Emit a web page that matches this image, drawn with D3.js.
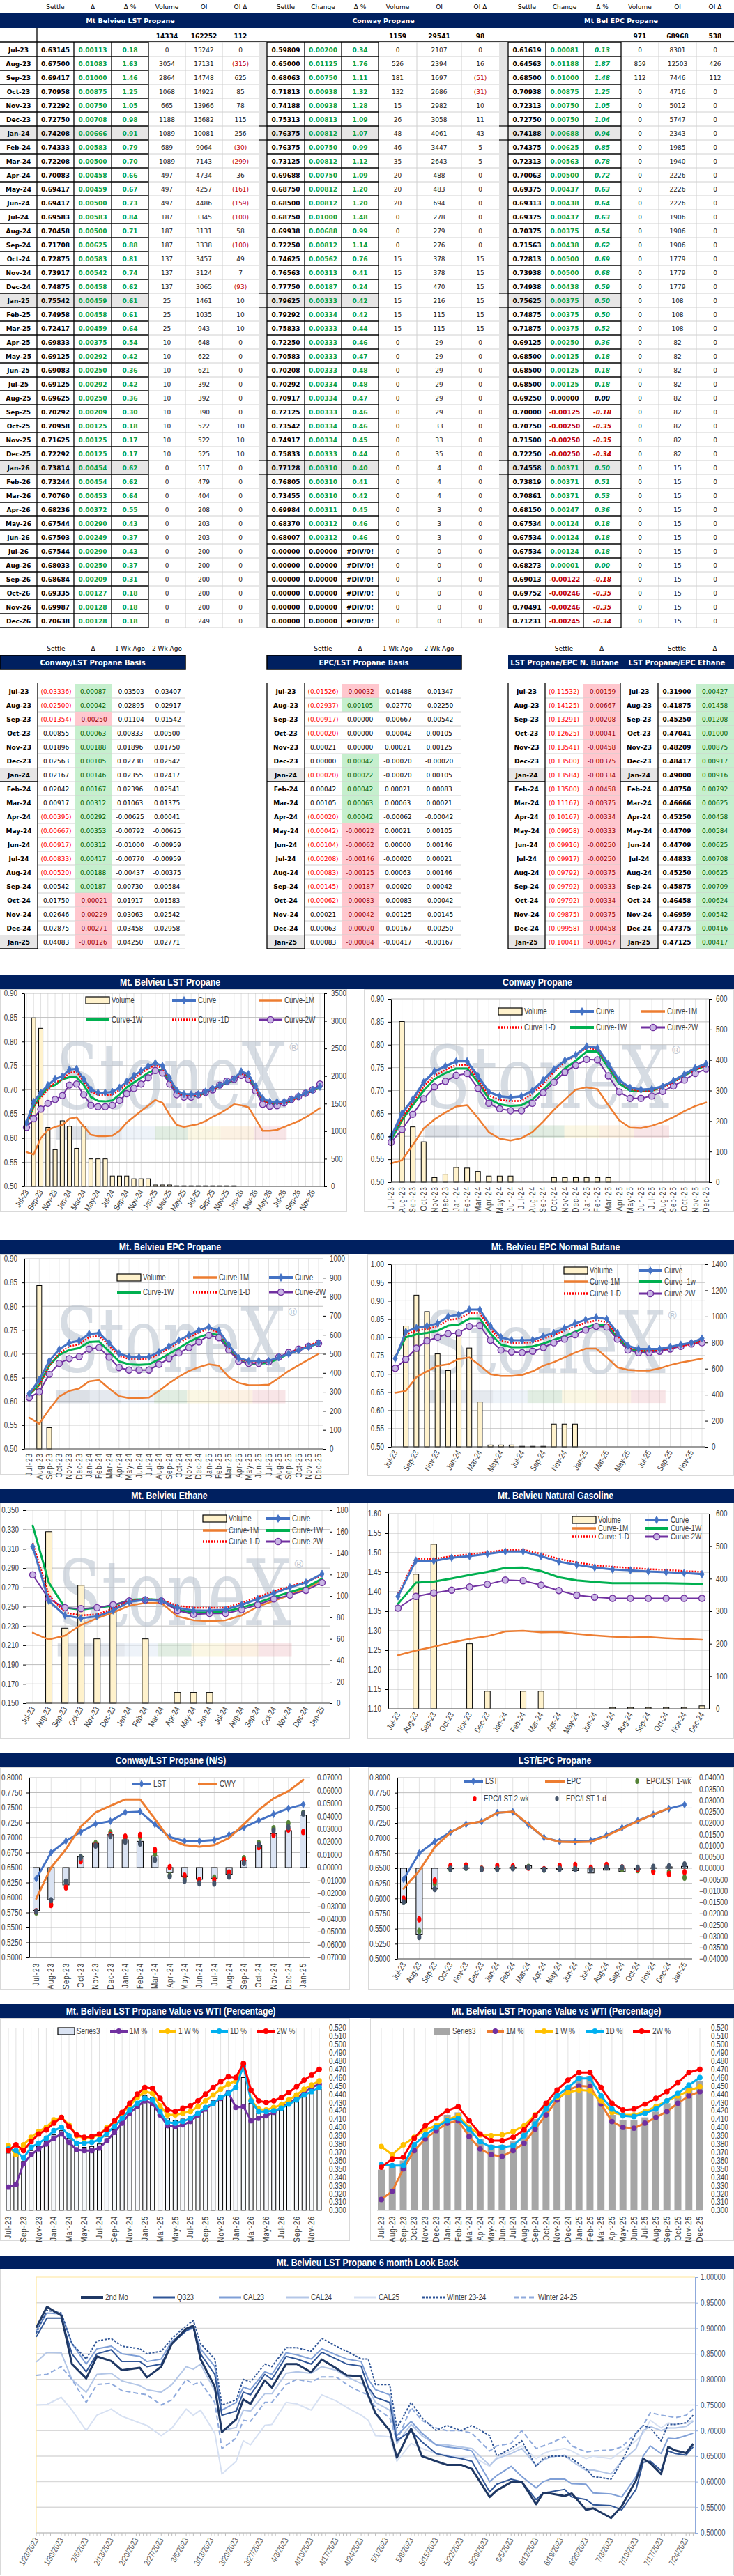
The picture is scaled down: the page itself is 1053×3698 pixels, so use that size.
<!DOCTYPE html>
<html>
<head>
<meta charset="utf-8">
<script src="https://cdn.jsdelivr.net/npm/d3@7"></script>
<style>
  body { margin: 0; background: #fff; }
  svg { display: block; }
</style>
</head>
<body>
<div id="page"></div>
<script>
// ---------- data ----------
const MONTHS = ["Jul-23","Aug-23","Sep-23","Oct-23","Nov-23","Dec-23","Jan-24","Feb-24","Mar-24","Apr-24","May-24","Jun-24","Jul-24","Aug-24","Sep-24","Oct-24","Nov-24","Dec-24","Jan-25","Feb-25","Mar-25","Apr-25","May-25","Jun-25","Jul-25","Aug-25","Sep-25","Oct-25","Nov-25","Dec-25","Jan-26","Feb-26","Mar-26","Apr-26","May-26","Jun-26","Jul-26","Aug-26","Sep-26","Oct-26","Nov-26","Dec-26"];

const LST_SETTLE = [0.63145,0.67500,0.69417,0.70958,0.72292,0.72750,0.74208,0.74333,0.72208,0.70083,0.69417,0.69417,0.69583,0.70458,0.71708,0.72875,0.73917,0.74875,0.75542,0.74958,0.72417,0.69833,0.69125,0.69083,0.69125,0.69625,0.70292,0.70958,0.71625,0.72292,0.73814,0.73244,0.70760,0.68236,0.67544,0.67503,0.67544,0.68033,0.68684,0.69335,0.69987,0.70638];
const LST_CHG = [0.00113,0.01083,0.01000,0.00875,0.00750,0.00708,0.00666,0.00583,0.00500,0.00458,0.00459,0.00500,0.00583,0.00500,0.00625,0.00583,0.00542,0.00458,0.00459,0.00458,0.00459,0.00375,0.00292,0.00250,0.00292,0.00250,0.00209,0.00125,0.00125,0.00125,0.00454,0.00454,0.00453,0.00372,0.00290,0.00249,0.00290,0.00250,0.00209,0.00127,0.00128,0.00128];
const LST_PCT = [0.18,1.63,1.46,1.25,1.05,0.98,0.91,0.79,0.70,0.66,0.67,0.73,0.84,0.71,0.88,0.81,0.74,0.62,0.61,0.61,0.64,0.54,0.42,0.36,0.42,0.36,0.30,0.18,0.17,0.17,0.62,0.62,0.64,0.55,0.43,0.37,0.43,0.37,0.31,0.18,0.18,0.18];
const LST_VOL = [0,3054,2864,1068,665,1188,1089,689,1089,497,497,497,187,187,187,137,137,137,25,25,25,10,10,10,10,10,10,10,10,10,0,0,0,0,0,0,0,0,0,0,0,0];
const LST_OI = [15242,17131,14748,14922,13966,15682,10081,9064,7143,4734,4257,4486,3345,3131,3338,3457,3124,3065,1461,1035,943,648,622,621,392,392,390,522,522,525,517,479,404,208,203,203,200,200,200,200,200,249];
const LST_OID = [0,-315,625,85,78,115,256,-30,-299,36,-161,-159,-100,58,-100,49,7,-93,10,10,10,0,0,0,0,0,0,10,10,10,0,0,0,0,0,0,0,0,0,0,0,0];

const CWY_SETTLE = [0.59809,0.65000,0.68063,0.71813,0.74188,0.75313,0.76375,0.76375,0.73125,0.69688,0.68750,0.68500,0.68750,0.69938,0.72250,0.74625,0.76563,0.77750,0.79625,0.79292,0.75833,0.72250,0.70583,0.70208,0.70292,0.70917,0.72125,0.73542,0.74917,0.75833,0.77128,0.76805,0.73455,0.69984,0.68370,0.68007,0,0,0,0,0,0];
const CWY_CHG = [0.00200,0.01125,0.00750,0.00938,0.00938,0.00813,0.00812,0.00750,0.00812,0.00750,0.00812,0.00812,0.01000,0.00688,0.00812,0.00562,0.00313,0.00187,0.00333,0.00334,0.00333,0.00333,0.00333,0.00333,0.00334,0.00334,0.00333,0.00334,0.00334,0.00333,0.00310,0.00310,0.00310,0.00311,0.00312,0.00312,0,0,0,0,0,0];
const CWY_PCT = [0.34,1.76,1.11,1.32,1.28,1.09,1.07,0.99,1.12,1.09,1.20,1.20,1.48,0.99,1.14,0.76,0.41,0.24,0.42,0.42,0.44,0.46,0.47,0.48,0.48,0.47,0.46,0.46,0.45,0.44,0.40,0.41,0.42,0.45,0.46,0.46,"#DIV/0!","#DIV/0!","#DIV/0!","#DIV/0!","#DIV/0!","#DIV/0!"];
const CWY_VOL = [0,526,181,132,15,26,48,46,35,20,20,20,0,0,0,15,15,15,15,15,15,0,0,0,0,0,0,0,0,0,0,0,0,0,0,0,0,0,0,0,0,0];
const CWY_OI = [2107,2394,1697,2686,2982,3058,4061,3447,2643,488,483,694,278,279,276,378,378,470,216,115,115,29,29,29,29,29,29,33,33,35,4,4,4,3,3,3,0,0,0,0,0,0];
const CWY_OID = [0,16,-51,-31,10,11,43,5,5,0,0,0,0,0,0,15,15,15,15,15,15,0,0,0,0,0,0,0,0,0,0,0,0,0,0,0,0,0,0,0,0,0];

const EPC_SETTLE = [0.61619,0.64563,0.68500,0.70938,0.72313,0.72750,0.74188,0.74375,0.72313,0.70063,0.69375,0.69313,0.69375,0.70375,0.71563,0.72813,0.73938,0.74938,0.75625,0.74875,0.71875,0.69125,0.68500,0.68500,0.68500,0.69250,0.70000,0.70750,0.71500,0.72250,0.74558,0.73819,0.70861,0.68150,0.67534,0.67534,0.67534,0.68273,0.69013,0.69752,0.70491,0.71231];
const EPC_CHG = [0.00081,0.01188,0.01000,0.00875,0.00750,0.00750,0.00688,0.00625,0.00563,0.00500,0.00437,0.00438,0.00437,0.00375,0.00438,0.00500,0.00500,0.00438,0.00375,0.00375,0.00375,0.00250,0.00125,0.00125,0.00125,0.00000,-0.00125,-0.00250,-0.00250,-0.00250,0.00371,0.00371,0.00371,0.00247,0.00124,0.00124,0.00124,0.00001,-0.00122,-0.00246,-0.00246,-0.00245];
const EPC_PCT = [0.13,1.87,1.48,1.25,1.05,1.04,0.94,0.85,0.78,0.72,0.63,0.64,0.63,0.54,0.62,0.69,0.68,0.59,0.50,0.50,0.52,0.36,0.18,0.18,0.18,0.00,-0.18,-0.35,-0.35,-0.34,0.50,0.51,0.53,0.36,0.18,0.18,0.18,0.00,-0.18,-0.35,-0.35,-0.34];
const EPC_VOL = [0,859,112,0,0,0,0,0,0,0,0,0,0,0,0,0,0,0,0,0,0,0,0,0,0,0,0,0,0,0,0,0,0,0,0,0,0,0,0,0,0,0];
const EPC_OI = [8301,12503,7446,4716,5012,5747,2343,1985,1940,2226,2226,2226,1906,1906,1906,1779,1779,1779,108,108,108,82,82,82,82,82,82,82,82,82,15,15,15,15,15,15,15,15,15,15,15,15];
const EPC_OID = [0,426,112,0,0,0,0,0,0,0,0,0,0,0,0,0,0,0,0,0,0,0,0,0,0,0,0,0,0,0,0,0,0,0,0,0,0,0,0,0,0,0];

const BMONTHS = MONTHS.slice(0, 19);
const CL_SETTLE = [-0.03336,-0.02500,-0.01354,0.00855,0.01896,0.02563,0.02167,0.02042,0.00917,-0.00395,-0.00667,-0.00917,-0.00833,-0.00520,0.00542,0.01750,0.02646,0.02875,0.04083];
const CL_DELTA = [0.00087,0.00042,-0.00250,0.00063,0.00188,0.00105,0.00146,0.00167,0.00312,0.00292,0.00353,0.00312,0.00417,0.00188,0.00187,-0.00021,-0.00229,-0.00271,-0.00126];
const CL_WK1 = [-0.03503,-0.02895,-0.01104,0.00833,0.01896,0.02730,0.02355,0.02396,0.01063,-0.00625,-0.00792,-0.01000,-0.00770,-0.00437,0.00730,0.01917,0.03063,0.03458,0.04250];
const CL_WK2 = [-0.03407,-0.02917,-0.01542,0.00500,0.01750,0.02542,0.02417,0.02541,0.01375,0.00041,-0.00625,-0.00959,-0.00959,-0.00375,0.00584,0.01583,0.02542,0.02958,0.02771];
const EL_SETTLE = [-0.01526,-0.02937,-0.00917,-0.00020,0.00021,0.00000,-0.00020,0.00042,0.00105,-0.00020,-0.00042,-0.00104,-0.00208,-0.00083,-0.00145,-0.00062,0.00021,0.00063,0.00083];
const EL_DELTA = [-0.00032,0.00105,0.00000,0.00000,0.00000,0.00042,0.00022,0.00042,0.00063,0.00042,-0.00022,-0.00062,-0.00146,-0.00125,-0.00187,-0.00083,-0.00042,-0.00020,-0.00084];
const EL_WK1 = [-0.01488,-0.02770,-0.00667,-0.00042,0.00021,-0.00020,-0.00020,0.00021,0.00063,-0.00062,0.00021,0.00000,-0.00020,0.00063,-0.00020,-0.00083,-0.00125,-0.00167,-0.00417];
const EL_WK2 = [-0.01347,-0.02250,-0.00542,0.00105,0.00125,-0.00020,0.00105,0.00083,0.00021,-0.00042,0.00105,0.00146,0.00021,0.00146,0.00042,-0.00042,-0.00145,-0.00250,-0.00167];
const NB_SETTLE = [-0.11532,-0.14125,-0.13291,-0.12625,-0.13541,-0.13500,-0.13584,-0.13500,-0.11167,-0.10167,-0.09958,-0.09916,-0.09917,-0.09792,-0.09792,-0.09792,-0.09875,-0.09958,-0.10041];
const NB_DELTA = [-0.00159,-0.00667,-0.00208,-0.00041,-0.00458,-0.00375,-0.00334,-0.00458,-0.00375,-0.00334,-0.00333,-0.00250,-0.00250,-0.00375,-0.00333,-0.00334,-0.00375,-0.00458,-0.00457];
const ET_SETTLE = [0.31900,0.41875,0.45250,0.47041,0.48209,0.48417,0.49000,0.48750,0.46666,0.45250,0.44709,0.44709,0.44833,0.45250,0.45875,0.46458,0.46959,0.47375,0.47125];
const ET_DELTA = [0.00427,0.01458,0.01208,0.01000,0.00875,0.00917,0.00916,0.00792,0.00625,0.00458,0.00584,0.00625,0.00708,0.00625,0.00709,0.00624,0.00542,0.00416,0.00417];

// forward-curve comparison series
const LST_1M = [0.571,0.566,0.600,0.617,0.623,0.627,0.640,0.643,0.624,0.607,0.604,0.604,0.605,0.615,0.632,0.644,0.656,0.667,0.679,0.673,0.648,0.627,0.623,0.626,0.629,0.635,0.644,0.651,0.660,0.670,0.668,0.664,0.640,0.615,0.615,0.617,0.623,0.629,0.635,0.643,0.652,0.662];
const LST_1W = [0.628,0.665,0.688,0.705,0.710,0.722,0.726,0.726,0.710,0.685,0.677,0.676,0.678,0.690,0.705,0.715,0.725,0.735,0.742,0.740,0.718,0.693,0.687,0.686,0.688,0.694,0.700,0.708,0.714,0.720,0.733,0.728,0.703,0.678,0.671,0.671,0.672,0.678,0.685,0.692,0.698,0.705];
const LST_2W = [0.622,0.640,0.660,0.672,0.680,0.688,0.710,0.712,0.690,0.668,0.665,0.665,0.668,0.678,0.692,0.703,0.712,0.725,0.740,0.735,0.712,0.690,0.685,0.685,0.690,0.695,0.700,0.710,0.718,0.722,0.730,0.722,0.698,0.670,0.666,0.667,0.673,0.680,0.686,0.693,0.700,0.712];
const CWY_1M = [0.541,0.548,0.581,0.617,0.637,0.652,0.665,0.668,0.640,0.609,0.595,0.591,0.596,0.609,0.632,0.658,0.680,0.702,0.707,0.703,0.668,0.635,0.619,0.618,0.623,0.631,0.642,0.655,0.666,0.674];
const CWY_1W = [0.592,0.635,0.668,0.700,0.725,0.738,0.748,0.748,0.718,0.682,0.670,0.666,0.668,0.680,0.702,0.725,0.748,0.765,0.785,0.785,0.750,0.715,0.700,0.698,0.700,0.708,0.720,0.733,0.745,0.755];
const CWY_2W = [0.587,0.615,0.648,0.682,0.708,0.720,0.733,0.737,0.705,0.672,0.660,0.656,0.656,0.672,0.695,0.718,0.740,0.755,0.768,0.767,0.732,0.697,0.683,0.683,0.688,0.698,0.710,0.723,0.737,0.747];
const EPC_1M = [0.566,0.553,0.583,0.610,0.622,0.627,0.642,0.645,0.627,0.611,0.607,0.607,0.608,0.622,0.638,0.652,0.664,0.672,0.678,0.675,0.651,0.639,0.634,0.634,0.635,0.649,0.664,0.676,0.688,0.700];
const EPC_1W = [0.614,0.635,0.675,0.698,0.708,0.712,0.725,0.726,0.705,0.684,0.678,0.677,0.678,0.688,0.700,0.712,0.725,0.735,0.742,0.740,0.712,0.686,0.679,0.679,0.681,0.690,0.700,0.708,0.715,0.722];
const EPC_2W = [0.608,0.620,0.657,0.680,0.690,0.694,0.710,0.713,0.693,0.671,0.666,0.666,0.666,0.678,0.690,0.702,0.713,0.725,0.739,0.734,0.708,0.684,0.680,0.680,0.683,0.693,0.703,0.710,0.716,0.722];
const BUT_CURVE = [0.742,0.815,0.826,0.831,0.838,0.857,0.862,0.876,0.876,0.831,0.800,0.792,0.792,0.793,0.803,0.812,0.825,0.838,0.848,0.855,0.850,0.812,0.777,0.768,0.768,0.768,0.774,0.780,0.785,0.797];
const BUT_1D = [0.745,0.808,0.818,0.823,0.830,0.848,0.851,0.866,0.866,0.823,0.790,0.785,0.785,0.786,0.796,0.806,0.818,0.830,0.840,0.846,0.842,0.805,0.772,0.763,0.763,0.764,0.770,0.776,0.781,0.790];
const BUT_1W = [0.745,0.800,0.808,0.812,0.818,0.832,0.835,0.851,0.851,0.810,0.780,0.773,0.773,0.775,0.783,0.793,0.803,0.815,0.827,0.836,0.833,0.800,0.770,0.762,0.762,0.765,0.770,0.778,0.785,0.792];
const BUT_2W = [0.715,0.740,0.770,0.790,0.800,0.810,0.812,0.830,0.832,0.792,0.765,0.760,0.758,0.762,0.772,0.785,0.795,0.807,0.820,0.830,0.828,0.795,0.765,0.758,0.758,0.762,0.768,0.775,0.782,0.785];
const BUT_1M = [0.648,0.653,0.691,0.707,0.722,0.726,0.741,0.745,0.723,0.699,0.694,0.694,0.697,0.707,0.722,0.732,0.745,0.758,0.769,0.769,0.745,0.718,0.711,0.709,0.709,0.715,0.724,0.731,0.736,0.742];
const BUT_VOL = [0,927,1163,1037,713,585,892,758,344,14,14,14,4,4,4,175,175,175,0,0,0,0,0,0,0,0,0,0,0,0];
const ETH_CURVE = [0.312,0.256,0.241,0.238,0.240,0.246,0.255,0.257,0.256,0.249,0.246,0.246,0.247,0.252,0.258,0.264,0.270,0.275,0.284];
const ETH_1D = [0.316,0.262,0.244,0.241,0.242,0.248,0.256,0.258,0.257,0.251,0.249,0.249,0.249,0.254,0.260,0.266,0.271,0.276,0.282];
const ETH_1W = [0.334,0.275,0.249,0.247,0.249,0.251,0.257,0.258,0.257,0.247,0.244,0.244,0.245,0.249,0.254,0.260,0.265,0.270,0.279];
const ETH_2W = [0.283,0.258,0.249,0.248,0.249,0.252,0.256,0.257,0.256,0.246,0.242,0.243,0.243,0.247,0.252,0.258,0.262,0.267,0.275];
const ETH_1M = [0.223,0.216,0.220,0.231,0.238,0.244,0.251,0.254,0.254,0.240,0.236,0.235,0.236,0.241,0.250,0.256,0.262,0.269,0.277];
const ETH_VOL = [0,160,70,110,60,90,0,60,0,10,10,10,0,0,0,0,0,0,0];
const NG_CURVE = [1.388,1.480,1.479,1.487,1.491,1.497,1.503,1.503,1.491,1.477,1.469,1.462,1.457,1.455,1.452,1.450,1.448,1.445];
const NG_1D = [1.395,1.485,1.484,1.491,1.496,1.501,1.507,1.508,1.497,1.484,1.475,1.468,1.464,1.461,1.458,1.456,1.453,1.451];
const NG_1W = [1.369,1.423,1.426,1.434,1.443,1.451,1.461,1.462,1.453,1.437,1.429,1.425,1.422,1.422,1.422,1.422,1.421,1.420];
const NG_2W = [1.358,1.388,1.397,1.404,1.412,1.419,1.430,1.428,1.417,1.403,1.391,1.386,1.383,1.383,1.383,1.383,1.383,1.383];
const NG_1M = [1.237,1.249,1.259,1.270,1.279,1.286,1.298,1.300,1.296,1.297,1.292,1.288,1.285,1.283,1.284,1.281,1.279,1.277];
const NG_VOL = [0,414,506,0,200,54,0,54,54,0,0,0,4,4,4,4,4,9];

const WTI_L_BAR = [0.369,0.367,0.359,0.372,0.377,0.384,0.391,0.396,0.387,0.379,0.376,0.377,0.380,0.389,0.397,0.407,0.417,0.426,0.438,0.436,0.424,0.411,0.408,0.410,0.412,0.418,0.425,0.432,0.438,0.443,0.449,0.460,0.429,0.417,0.415,0.418,0.421,0.426,0.432,0.437,0.442,0.446];
const WTI_L_1M = [0.328,0.331,0.356,0.367,0.374,0.380,0.387,0.392,0.382,0.373,0.372,0.372,0.375,0.384,0.394,0.405,0.417,0.425,0.432,0.429,0.415,0.402,0.401,0.403,0.407,0.415,0.422,0.429,0.435,0.442,0.424,0.425,0.408,0.411,0.414,0.418,0.424,0.429,0.435,0.442,0.448,0.452];
const WTI_L_1W = [0.378,0.367,0.379,0.388,0.395,0.400,0.409,0.412,0.403,0.390,0.387,0.388,0.391,0.400,0.407,0.417,0.426,0.436,0.443,0.441,0.426,0.415,0.415,0.417,0.419,0.425,0.432,0.439,0.446,0.452,0.456,0.476,0.433,0.422,0.421,0.424,0.427,0.433,0.439,0.446,0.451,0.456];
const WTI_L_1D = [0.374,0.372,0.363,0.376,0.381,0.387,0.396,0.400,0.390,0.381,0.381,0.382,0.385,0.393,0.401,0.411,0.421,0.429,0.435,0.433,0.419,0.406,0.405,0.407,0.411,0.417,0.424,0.429,0.436,0.441,0.448,0.474,0.432,0.419,0.419,0.420,0.423,0.428,0.433,0.439,0.443,0.448];
const WTI_L_2W = [0.372,0.379,0.372,0.383,0.392,0.397,0.405,0.412,0.401,0.391,0.388,0.389,0.392,0.398,0.408,0.418,0.429,0.440,0.448,0.447,0.435,0.421,0.419,0.423,0.426,0.432,0.440,0.448,0.455,0.461,0.460,0.477,0.445,0.432,0.430,0.432,0.436,0.442,0.449,0.457,0.463,0.470];
const WTI_R_BAR = [0.349,0.354,0.360,0.378,0.392,0.402,0.415,0.418,0.399,0.386,0.379,0.379,0.383,0.396,0.410,0.427,0.438,0.450,0.462,0.462,0.436,0.415,0.409,0.409,0.412,0.419,0.429,0.438,0.449,0.456];
const WTI_R_1M = [0.313,0.323,0.350,0.372,0.386,0.396,0.405,0.408,0.389,0.374,0.367,0.365,0.372,0.381,0.398,0.415,0.433,0.445,0.450,0.449,0.428,0.407,0.400,0.399,0.405,0.412,0.419,0.429,0.438,0.443];
const WTI_R_1W = [0.377,0.367,0.379,0.388,0.397,0.402,0.409,0.414,0.400,0.391,0.390,0.391,0.395,0.402,0.415,0.427,0.436,0.442,0.445,0.444,0.432,0.418,0.415,0.415,0.419,0.425,0.432,0.438,0.444,0.449];
const WTI_R_1D = [0.355,0.354,0.354,0.379,0.391,0.400,0.408,0.411,0.398,0.383,0.376,0.376,0.378,0.390,0.404,0.422,0.438,0.448,0.459,0.459,0.438,0.422,0.414,0.413,0.417,0.422,0.432,0.441,0.451,0.460];
const WTI_R_2W = [0.352,0.362,0.364,0.387,0.402,0.411,0.420,0.425,0.408,0.392,0.384,0.384,0.388,0.397,0.414,0.429,0.445,0.457,0.466,0.466,0.448,0.429,0.421,0.422,0.428,0.435,0.443,0.454,0.466,0.470];

const LB_DATES = ["1/23/2023","1/26/2023","1/30/2023","2/2/2023","2/6/2023","2/9/2023","2/13/2023","2/16/2023","2/21/2023","2/23/2023","2/27/2023","3/2/2023","3/6/2023","3/8/2023","3/10/2023","3/14/2023","3/16/2023","3/20/2023","3/22/2023","3/24/2023","3/28/2023","3/30/2023","4/3/2023","4/6/2023","4/10/2023","4/13/2023","4/17/2023","4/20/2023","4/24/2023","4/26/2023","4/28/2023","5/2/2023","5/4/2023","5/8/2023","5/11/2023","5/15/2023","5/18/2023","5/22/2023","5/25/2023","5/30/2023","6/1/2023","6/5/2023","6/8/2023","6/12/2023","6/14/2023","6/16/2023","6/20/2023","6/22/2023","6/26/2023","6/28/2023","7/3/2023","7/6/2023","7/10/2023","7/12/2023","7/14/2023","7/17/2023","7/19/2023","7/21/2023","7/24/2023","7/26/2023"];
const LB_2NDMO = [0.901,0.942,0.925,0.830,0.802,0.845,0.836,0.818,0.823,0.804,0.825,0.870,0.899,0.905,0.840,0.786,0.697,0.722,0.761,0.752,0.798,0.784,0.830,0.830,0.814,0.839,0.822,0.808,0.806,0.768,0.734,0.700,0.647,0.704,0.650,0.640,0.633,0.633,0.625,0.570,0.583,0.599,0.600,0.556,0.578,0.577,0.572,0.577,0.545,0.548,0.529,0.552,0.603,0.645,0.636,0.615,0.668,0.661,0.656,0.674];
const LB_Q323 = [0.883,0.920,0.920,0.850,0.815,0.850,0.858,0.835,0.835,0.825,0.830,0.870,0.895,0.903,0.850,0.810,0.730,0.738,0.775,0.770,0.810,0.800,0.845,0.840,0.830,0.853,0.840,0.830,0.826,0.785,0.765,0.755,0.680,0.700,0.678,0.655,0.650,0.645,0.640,0.580,0.595,0.605,0.600,0.565,0.578,0.580,0.585,0.570,0.565,0.555,0.553,0.545,0.585,0.638,0.640,0.622,0.660,0.655,0.652,0.668];
const LB_CAL23 = [0.895,0.930,0.928,0.870,0.830,0.860,0.865,0.850,0.845,0.835,0.840,0.875,0.895,0.900,0.860,0.825,0.740,0.755,0.785,0.780,0.815,0.810,0.852,0.848,0.840,0.860,0.848,0.840,0.835,0.800,0.780,0.770,0.690,0.718,0.695,0.672,0.668,0.665,0.660,0.600,0.612,0.630,0.610,0.588,0.600,0.605,0.605,0.596,0.595,0.578,0.576,0.570,0.610,0.650,0.670,0.655,0.685,0.684,0.690,0.695];
const LB_CAL24 = [0.834,0.853,0.852,0.800,0.775,0.810,0.812,0.797,0.788,0.780,0.775,0.790,0.825,0.820,0.830,0.778,0.700,0.706,0.740,0.738,0.772,0.772,0.812,0.815,0.812,0.825,0.818,0.805,0.792,0.782,0.755,0.740,0.675,0.712,0.690,0.672,0.672,0.668,0.665,0.632,0.645,0.655,0.665,0.632,0.642,0.648,0.652,0.640,0.622,0.623,0.615,0.640,0.665,0.700,0.708,0.700,0.705,0.705,0.708,0.718];
const LB_CAL25 = [0.750,0.751,0.765,0.740,0.700,0.730,0.742,0.728,0.715,0.710,0.690,0.705,0.742,0.730,0.740,0.695,0.615,0.640,0.680,0.672,0.710,0.712,0.755,0.752,0.740,0.770,0.758,0.745,0.730,0.720,0.690,0.688,0.640,0.675,0.665,0.655,0.652,0.648,0.650,0.630,0.648,0.660,0.670,0.645,0.655,0.660,0.665,0.660,0.645,0.650,0.645,0.660,0.680,0.695,0.720,0.705,0.715,0.712,0.715,0.720];
const LB_W2324 = [0.890,0.935,0.930,0.870,0.840,0.875,0.880,0.865,0.860,0.850,0.855,0.880,0.905,0.915,0.870,0.840,0.750,0.760,0.800,0.795,0.830,0.825,0.862,0.862,0.855,0.880,0.865,0.855,0.840,0.840,0.790,0.790,0.705,0.755,0.725,0.700,0.710,0.700,0.710,0.690,0.650,0.665,0.680,0.630,0.645,0.650,0.650,0.645,0.625,0.610,0.605,0.640,0.695,0.710,0.705,0.680,0.712,0.712,0.715,0.730];
const LB_W2425 = [0.808,0.810,0.825,0.800,0.755,0.790,0.792,0.778,0.772,0.770,0.750,0.760,0.800,0.790,0.795,0.755,0.665,0.685,0.720,0.718,0.755,0.755,0.790,0.800,0.795,0.805,0.805,0.790,0.775,0.770,0.745,0.725,0.680,0.745,0.720,0.705,0.700,0.700,0.695,0.660,0.670,0.675,0.700,0.665,0.670,0.675,0.688,0.670,0.658,0.660,0.662,0.668,0.695,0.710,0.735,0.730,0.728,0.725,0.730,0.742];

(function () {
  "use strict";

  const W = 1053, H = 3698;
  const NAVY = "#002060";
  const CF = "'Liberation Sans Narrow','Arial Narrow','Liberation Sans',sans-serif";
  const TF = "'DejaVu Sans',Verdana,sans-serif";
  const GREEN = "#00a04b", DRED = "#c00000";
  const ROW_H = 20, ROW0 = 61, BROW0 = 982;

  const svg = d3.select("#page").append("svg")
    .attr("width", W).attr("height", H).attr("viewBox", `0 0 ${W} ${H}`);
  svg.append("rect").attr("width", W).attr("height", H).attr("fill", "#fff");

  const mid = (c) => (c[0] + c[1]) / 2;
  const prior = (s, d) => s.map((v, i) => +(v - d[i]).toFixed(5));

  function txt(g, x, y, s, o = {}) {
    return g.append("text").attr("x", x).attr("y", y)
      .attr("text-anchor", o.anchor || "middle")
      .attr("font-family", o.font || TF).attr("font-size", o.size || 9)
      .attr("font-weight", o.bold ? "bold" : null)
      .attr("font-style", o.italic ? "italic" : null)
      .attr("fill", o.fill || "#000").text(s);
  }
  function rect(g, x, y, w, h, fill) {
    return g.append("rect").attr("x", x).attr("y", y).attr("width", w).attr("height", h).attr("fill", fill);
  }
  function hl(g, x0, x1, y, c, w) {
    g.append("line").attr("x1", x0).attr("x2", x1).attr("y1", y).attr("y2", y).attr("stroke", c).attr("stroke-width", w || 1);
  }
  function vl(g, x, y0, y1, c, w) {
    g.append("line").attr("x1", x).attr("x2", x).attr("y1", y0).attr("y2", y1).attr("stroke", c).attr("stroke-width", w || 1);
  }

  // ---------- futures tables ----------
  function futTable(t) {
    const g = svg.append("g");
    const c = t.cols, top = ROW0, bot = ROW0 + MONTHS.length * ROW_H;
    const bx0 = t.label ? t.label[0] : c[0][0];
    t.heads.forEach((h, i) => txt(g, mid(c[i]), 13, h));
    t.totals.forEach((v, i) => txt(g, mid(c[3 + i]), 55, v, { bold: true }));
    if (t.strip) rect(g, t.strip[0], top, t.strip[1] - t.strip[0], bot - top, "#e4e4e4");
    MONTHS.forEach((m, i) => {
      const y = top + i * ROW_H, ty = y + 14;
      const jan = i > 0 && m.slice(0, 3) === "Jan";
      if (jan) {
        rect(g, bx0, y, c[2][1] - bx0, ROW_H, "#e7e6e6");
        if (t.strip) {
          rect(g, t.strip[0], y, t.strip[1] - t.strip[0], ROW_H, "#f2f2f2");
          hl(g, t.strip[0], t.strip[1], y, "#000", 1.2);
          hl(g, t.strip[0], t.strip[1], y + ROW_H, "#000", 1.2);
        }
      }
      if (t.label) txt(g, mid(t.label), ty, m, { bold: true });
      txt(g, mid(c[0]), ty, t.settle[i].toFixed(5), { bold: true });
      const ch = t.chg[i];
      const col = ch > 0 ? GREEN : ch < 0 ? DRED : "#000";
      txt(g, mid(c[1]), ty, ch.toFixed(5), { bold: true, fill: col });
      const p = t.pct[i];
      const ps = typeof p === "string" ? p : p.toFixed(2);
      txt(g, mid(c[2]), ty, ps, { bold: true, italic: t.italic, fill: typeof p === "string" ? "#000" : col });
      txt(g, mid(c[3]), ty, t.vol[i], { fill: "#222" });
      txt(g, mid(c[4]), ty, t.oi[i], { fill: "#222" });
      const od = t.oid[i];
      txt(g, mid(c[5]), ty, od < 0 ? `(${-od})` : od, { fill: od < 0 ? DRED : "#222" });
    });
    for (let i = 0; i <= MONTHS.length; i++) {
      const y = top + i * ROW_H;
      hl(g, c[3][0], c[5][1], y, "#d0d0d0", 1);
      hl(g, bx0, c[2][1], y, "#000", 1.3);
    }
    hl(g, t.x0, t.x1, 60, "#000", 1.5);
    [c[0][0], c[1][0], c[2][0], c[2][1]].forEach((x) => vl(g, x, t.label && x === c[0][0] ? 40 : top, bot, "#000", 1.3));
    [c[4][0], c[5][0]].forEach((x) => vl(g, x, top, bot, "#d0d0d0", 1));
  }

  rect(svg, 0, 19, W, 21, NAVY);
  [["Mt Belvieu LST Propane", 187], ["Conway Propane", 550], ["Mt Bel EPC Propane", 891]].forEach(([s, x]) =>
    txt(svg, x, 33, s, { bold: true, fill: "#fff", size: 9.5 }));

  futTable({
    x0: 0, x1: 371, label: [0, 53],
    cols: [[53, 106], [106, 160], [160, 213], [213, 266], [266, 319], [319, 371]],
    heads: ["Settle", "Δ", "Δ %", "Volume", "OI", "OI Δ"], totals: [14334, 162252, 112],
    settle: LST_SETTLE, chg: LST_CHG, pct: LST_PCT, vol: LST_VOL, oi: LST_OI, oid: LST_OID
  });
  futTable({
    x0: 371, x1: 716, strip: [371, 383],
    cols: [[383, 437], [437, 490], [490, 543], [543, 598], [598, 662], [662, 716]],
    heads: ["Settle", "Change", "Δ %", "Volume", "OI", "OI Δ"], totals: [1159, 29541, 98],
    settle: CWY_SETTLE, chg: CWY_CHG, pct: CWY_PCT, vol: CWY_VOL, oi: CWY_OI, oid: CWY_OID
  });
  futTable({
    x0: 716, x1: 1053, strip: [716, 729], italic: true,
    cols: [[729, 783], [783, 837], [837, 891], [891, 945], [945, 999], [999, 1053]],
    heads: ["Settle", "Change", "Δ %", "Volume", "OI", "OI Δ"], totals: [971, 68968, 538],
    settle: EPC_SETTLE, chg: EPC_CHG, pct: EPC_PCT, vol: EPC_VOL, oi: EPC_OI, oid: EPC_OID
  });

  // ---------- basis tables ----------
  function basisTable(b) {
    const g = svg.append("g");
    const c = b.cols, top = BROW0, bot = BROW0 + BMONTHS.length * ROW_H;
    const last = c[c.length - 1][1];
    b.heads.forEach((h, i) => txt(g, mid(c[i + 1]), 934, h));
    BMONTHS.forEach((m, i) => {
      const y = top + i * ROW_H, ty = y + 14;
      const jan = m.slice(0, 3) === "Jan";
      if (jan) {
        rect(g, c[0][0], y, c[0][1] - c[0][0], ROW_H, "#e7e6e6");
        hl(g, c[0][0], c[0][1], y + ROW_H, "#000", 1.3);
      }
      txt(g, mid(c[0]), ty, m, { bold: true });
      const s = b.settle[i];
      txt(g, mid(c[1]), ty, s < 0 ? `(${(-s).toFixed(5)})` : s.toFixed(5),
        { fill: s < 0 ? "#ff0000" : "#000", bold: b.boldSettle });
      const d = b.delta[i];
      if (d !== 0) rect(g, c[2][0], y, c[2][1] - c[2][0], ROW_H, d > 0 ? "#c6efce" : "#ffc7ce");
      txt(g, mid(c[2]), ty, d.toFixed(5), { fill: d > 0 ? "#006100" : d < 0 ? "#9c0006" : "#000" });
      if (b.wk1) {
        txt(g, mid(c[3]), ty, b.wk1[i].toFixed(5));
        txt(g, mid(c[4]), ty, b.wk2[i].toFixed(5));
      }
      hl(g, c[1][0], last, y + ROW_H, "#d0d0d0", 1);
    });
    vl(g, c[0][1], top - 2, bot, "#000", 1.3);
    if (b.leftBorder) vl(g, c[0][0], top - 2, bot, "#000", 1.3);
  }

  function basisTitle(x0, x1, border, items) {
    const r = rect(svg, x0, 941, x1 - x0, 20, NAVY);
    if (border) r.attr("stroke", "#000").attr("stroke-width", 1.5);
    items.forEach(([s, x]) => txt(svg, x, 955, s, { bold: true, fill: "#fff", size: 10 }));
  }
  basisTitle(0, 266, true, [["Conway/LST Propane Basis", 133]]);
  basisTitle(383, 662, true, [["EPC/LST Propane Basis", 522]]);
  basisTitle(729, 1053, false, [["LST Propane/EPC N. Butane", 810], ["LST Propane/EPC Ethane", 971]]);

  basisTable({
    cols: [[0, 54], [54, 107], [107, 160], [160, 213], [213, 266]],
    heads: ["Settle", "Δ", "1-Wk Ago", "2-Wk Ago"],
    settle: CL_SETTLE, delta: CL_DELTA, wk1: CL_WK1, wk2: CL_WK2
  });
  basisTable({
    cols: [[383, 437], [437, 490], [490, 543], [543, 598], [598, 662]], leftBorder: true,
    heads: ["Settle", "Δ", "1-Wk Ago", "2-Wk Ago"],
    settle: EL_SETTLE, delta: EL_DELTA, wk1: EL_WK1, wk2: EL_WK2
  });
  basisTable({
    cols: [[729, 782], [782, 836], [836, 890]], leftBorder: true,
    heads: ["Settle", "Δ"], settle: NB_SETTLE, delta: NB_DELTA
  });
  basisTable({
    cols: [[890, 944], [944, 998], [998, 1053]], leftBorder: true, boldSettle: true,
    heads: ["Settle", "Δ"], settle: ET_SETTLE, delta: ET_DELTA
  });

  // ---------- chart helpers ----------
  function titleBar(y, h, items) {
    rect(svg, 0, y, W, h, NAVY);
    items.forEach(([s, x]) => svg.append("text").attr("x", x).attr("y", y + h / 2).attr("dy", "0.36em")
      .attr("text-anchor", "middle").attr("font-family", CF).attr("font-size", 15)
      .attr("font-weight", "bold").attr("fill", "#fff").text(s));
  }

  function steps(dom, st) {
    const n = Math.round((dom[1] - dom[0]) / st);
    return d3.range(n + 1).map((i) => +(dom[0] + i * st).toFixed(6));
  }

  function styleAxis(sel, color, keepDomain) {
    if (keepDomain) sel.select(".domain").attr("stroke", color);
    else sel.select(".domain").remove();
    sel.selectAll(".tick line").attr("stroke", color);
    sel.selectAll(".tick text").attr("font-family", CF).attr("font-size", 12).attr("fill", "#404040");
  }

  function watermark(g, x0, x1, y0, y1) {
    const w = x1 - x0, h = y1 - y0;
    const tx0 = x0 + w * 0.105, tx1 = x0 + w * 0.875;
    g.append("text").attr("x", tx0).attr("y", y0 + h * 0.595)
      .attr("font-family", "'DejaVu Serif','Liberation Serif',serif").attr("font-size", h * 0.47)
      .attr("textLength", tx1 - tx0).attr("lengthAdjust", "spacingAndGlyphs")
      .attr("fill", "#bcc5d1").attr("opacity", 0.6).text("StoneX");
    g.append("text").attr("x", tx1 + 2).attr("y", y0 + h * 0.3).attr("font-family", "'DejaVu Sans',sans-serif")
      .attr("font-size", h * 0.06).attr("fill", "#bcc5d1").text("®");
    const cols = ["#8b97ad", "#aab6ca", "#c7d7ec", "#9cc49f", "#f2e6a4", "#f5d2a2", "#e8aab0"];
    const bw = (tx1 - tx0) / cols.length;
    cols.forEach((c, i) => rect(g, tx0 + i * bw, y0 + h * 0.69, bw, h * 0.07, c).attr("opacity", 0.3));
  }

  function marks(g, pts, s) {
    if (s.marker === "diamond") {
      const sym = d3.symbol().type(d3.symbolDiamond).size(s.ms || 32);
      pts.forEach((p) => g.append("path").attr("d", sym()).attr("transform", `translate(${p[0]},${p[1]})`)
        .attr("fill", s.mfill || s.color).attr("stroke", s.color).attr("stroke-width", 0.8));
    } else if (s.marker === "circle") {
      pts.forEach((p) => g.append("circle").attr("cx", p[0]).attr("cy", p[1]).attr("r", s.r || 4)
        .attr("fill", s.mfill || s.color).attr("stroke", s.mstroke || s.color).attr("stroke-width", 1.4));
    }
  }

  function legendItem(g, it) {
    const s = it.s, sw = it.sw || 34;
    let tx = it.x + sw + 3;
    if (s.bar) {
      g.append("rect").attr("x", it.x).attr("y", it.y - 5).attr("width", sw).attr("height", 10)
        .attr("fill", s.lfill || s.fill).attr("stroke", s.stroke || "none").attr("stroke-width", s.stroke ? 1.2 : 0);
    } else if (s.dot) {
      g.append("ellipse").attr("cx", it.x + 3).attr("cy", it.y).attr("rx", 2.6).attr("ry", 4).attr("fill", s.dot);
      tx = it.x + 16;
    } else {
      g.append("line").attr("x1", it.x).attr("x2", it.x + sw).attr("y1", it.y).attr("y2", it.y)
        .attr("stroke", s.color).attr("stroke-width", (s.w || 2) + 1).attr("stroke-dasharray", s.dash || null);
      marks(g, [[it.x + sw / 2, it.y]], s);
    }
    g.append("text").attr("x", tx).attr("y", it.y).attr("dy", "0.35em").attr("font-family", CF)
      .attr("font-size", 12).attr("fill", "#404040").text(it.t);
  }

  function catChart(o) {
    const g = svg.append("g");
    const [bx, by, bw, bh] = o.box;
    g.append("rect").attr("x", bx + 0.5).attr("y", by + 0.5).attr("width", bw - 1).attr("height", bh - 1)
      .attr("fill", "#fff").attr("stroke", "#d9d9d9");
    const x = d3.scalePoint().domain(o.cats).range([o.px0, o.px1]);
    const y = d3.scaleLinear().domain(o.yDom).range([o.py1, o.py0]);
    const y2 = o.y2Dom ? d3.scaleLinear().domain(o.y2Dom).range([o.py1, o.py0]) : y;
    const yt = steps(o.yDom, o.yStep);

    g.append("g").selectAll("line").data(o.cats).join("line")
      .attr("x1", (d) => x(d)).attr("x2", (d) => x(d)).attr("y1", o.py0).attr("y2", o.py1)
      .attr("stroke", "#e2e2e2");
    if (o.hgrid !== false) {
      g.append("g").selectAll("line").data(yt).join("line")
        .attr("x1", o.ax0).attr("x2", o.ax1).attr("y1", (d) => y(d)).attr("y2", (d) => y(d))
        .attr("stroke", "#bdbdbd");
    }
    if (o.mark) watermark(g, o.ax0, o.ax1, o.py0, o.py1);

    if (o.bars) {
      const b = o.bars, sc = b.axis === 2 ? y2 : y, base = b.base || 0;
      const data = b.v.map((v, i) => ({ v, i })).filter((d) => d.v !== base);
      g.append("g").selectAll("rect").data(data).join("rect")
        .attr("x", (d) => x(o.cats[d.i]) - b.w / 2).attr("width", b.w)
        .attr("y", (d) => Math.min(sc(d.v), sc(base))).attr("height", (d) => Math.abs(sc(d.v) - sc(base)))
        .attr("fill", b.s.fill).attr("stroke", b.s.stroke || "none").attr("stroke-width", 1);
    }

    (o.series || []).forEach((sr) => {
      const sc = sr.axis === 2 ? y2 : y;
      const pts = sr.v.map((v, i) => [x(o.cats[i]), sc(v)]);
      if (sr.s.dot) {
        pts.forEach((p) => g.append("ellipse").attr("cx", p[0]).attr("cy", p[1]).attr("rx", 3).attr("ry", 4.5)
          .attr("fill", sr.s.dot));
        return;
      }
      g.append("path").attr("d", d3.line()(pts)).attr("fill", "none").attr("stroke", sr.s.color)
        .attr("stroke-width", sr.s.w).attr("stroke-dasharray", sr.s.dash || null)
        .attr("stroke-linejoin", "round").attr("stroke-linecap", sr.s.dash ? "butt" : "round");
      marks(g, pts, sr.s);
    });

    const axColor = "#404040";
    if (o.yAxis === "right") {
      const ga = g.append("g").attr("transform", `translate(${o.ax1},0)`)
        .call(d3.axisRight(y).tickValues(yt).tickFormat(o.yFmt).tickSize(0).tickPadding(o.pad || 10));
      styleAxis(ga, axColor, false);
    } else {
      const ga = g.append("g").attr("transform", `translate(${o.ax0},0)`)
        .call(d3.axisLeft(y).tickValues(yt).tickFormat(o.yFmt).tickSize(4).tickSizeOuter(0).tickPadding(6));
      styleAxis(ga, "#000", true);
    }
    if (o.y2Dom) {
      const ga = g.append("g").attr("transform", `translate(${o.ax1},0)`)
        .call(d3.axisRight(y2).tickValues(steps(o.y2Dom, o.y2Step)).tickFormat(o.y2Fmt)
          .tickSize(o.y2Line ? 4 : 0).tickSizeOuter(0).tickPadding(o.y2Line ? 6 : 10));
      styleAxis(ga, "#000", !!o.y2Line);
    }
    g.append("line").attr("x1", o.ax0).attr("x2", o.ax1).attr("y1", o.py1).attr("y2", o.py1)
      .attr("stroke", o.bottomColor || "#595959").attr("stroke-width", 1);

    o.cats.forEach((c, i) => {
      if (i % (o.every || 1)) return;
      g.append("text").attr("transform", `translate(${x(c)},${o.py1 + (o.lblOff || 6)}) rotate(${o.rot})`)
        .attr("text-anchor", "end").attr("dy", "0.35em").attr("font-family", CF).attr("font-size", 12)
        .attr("letter-spacing", o.rot === -90 ? 1.2 : 0).attr("fill", "#404040").text(c);
    });

    (o.legend || []).forEach((it) => legendItem(g, it));
  }

  // ---------- styles ----------
  const ST = {
    vol: { bar: true, fill: "#fff2cc", stroke: "#000" },
    curve: { color: "#4472c4", w: 3, marker: "diamond", ms: 34 },
    m1: { color: "#ed7d31", w: 2.5 },
    w1: { color: "#00b050", w: 3 },
    d1: { color: "#ff0000", w: 2.5, dash: "2,2" },
    w2: { color: "#7030a0", w: 2, marker: "circle", r: 4.5, mfill: "#c9b6e4" }
  };
  const fmt2 = d3.format(".2f"), fmt3 = d3.format(".3f"), fmt4 = d3.format(".4f"), fmt5 = d3.format(".5f"), fmtD = d3.format("d");

  function curveSeries(curve, d1, w1, w2, m1) {
    return [
      { v: m1, s: ST.m1 }, { v: w1, s: ST.w1 }, { v: w2, s: ST.w2 },
      { v: d1, s: ST.d1 }, { v: curve, s: ST.curve }
    ];
  }

  // ---------- row 1 ----------
  titleBar(1400, 20, [["Mt. Belvieu LST Propane", 244], ["Conway Propane", 771]]);
  catChart({
    box: [0, 1420, 498, 320], ax0: 35, ax1: 465, px0: 38, px1: 459, py0: 1426, py1: 1703,
    cats: MONTHS, yDom: [0.5, 0.9], yStep: 0.05, yFmt: fmt2,
    y2Dom: [0, 3500], y2Step: 500, y2Fmt: fmtD, y2Line: true,
    every: 2, rot: -60, mark: true,
    bars: { v: LST_VOL, axis: 2, w: 6, s: ST.vol },
    series: curveSeries(LST_SETTLE, prior(LST_SETTLE, LST_CHG), LST_1W, LST_2W, LST_1M),
    legend: [
      { t: "Volume", s: ST.vol, x: 123, y: 1436 }, { t: "Curve", s: ST.curve, x: 247, y: 1436 },
      { t: "Curve-1M", s: ST.m1, x: 371, y: 1436 }, { t: "Curve-1W", s: ST.w1, x: 123, y: 1464 },
      { t: "Curve -1D", s: ST.d1, x: 247, y: 1464 }, { t: "Curve-2W", s: ST.w2, x: 371, y: 1464 }
    ]
  });
  const M30 = MONTHS.slice(0, 30);
  catChart({
    box: [522, 1420, 531, 320], ax0: 561, ax1: 1017, px0: 561, px1: 1013, py0: 1434, py1: 1697,
    cats: M30, yDom: [0.5, 0.9], yStep: 0.05, yFmt: fmt2,
    y2Dom: [0, 600], y2Step: 100, y2Fmt: fmtD, y2Line: true,
    every: 1, rot: -90, mark: true,
    bars: { v: CWY_VOL.slice(0, 30), axis: 2, w: 7, s: ST.vol },
    series: curveSeries(CWY_SETTLE.slice(0, 30), prior(CWY_SETTLE.slice(0, 30), CWY_CHG.slice(0, 30)),
      CWY_1W, CWY_2W, CWY_1M).map((d) => d.s === ST.curve ? { v: d.v, s: Object.assign({}, ST.curve, { w: 3.5 }) } : d),
    legend: [
      { t: "Volume", s: ST.vol, x: 715, y: 1452 }, { t: "Curve", s: ST.curve, x: 818, y: 1452 },
      { t: "Curve-1M", s: ST.m1, x: 920, y: 1452 }, { t: "Curve 1-D", s: ST.d1, x: 715, y: 1475 },
      { t: "Curve-1W", s: ST.w1, x: 818, y: 1475 }, { t: "Curve-2W", s: ST.w2, x: 920, y: 1475 }
    ]
  });

  // ---------- row 2 ----------
  titleBar(1780, 20, [["Mt. Belvieu EPC Propane", 244], ["Mt. Belvieu EPC Normal Butane", 797]]);
  catChart({
    box: [0, 1800, 500, 317], ax0: 35, ax1: 463, px0: 42, px1: 457, py0: 1807, py1: 2080,
    cats: M30, yDom: [0.5, 0.9], yStep: 0.05, yFmt: fmt2,
    y2Dom: [0, 1000], y2Step: 100, y2Fmt: fmtD, y2Line: true,
    every: 1, rot: -90, mark: true,
    bars: { v: EPC_VOL.slice(0, 30), axis: 2, w: 7, s: ST.vol },
    series: curveSeries(EPC_SETTLE.slice(0, 30), prior(EPC_SETTLE.slice(0, 30), EPC_CHG.slice(0, 30)),
      EPC_1W, EPC_2W, EPC_1M),
    legend: [
      { t: "Volume", s: ST.vol, x: 168, y: 1834 }, { t: "Curve-1M", s: ST.m1, x: 277, y: 1834 },
      { t: "Curve", s: ST.curve, x: 386, y: 1834 }, { t: "Curve-1W", s: ST.w1, x: 168, y: 1855 },
      { t: "Curve 1-D", s: ST.d1, x: 277, y: 1855 }, { t: "Curve-2W", s: ST.w2, x: 386, y: 1855 }
    ]
  });
  catChart({
    box: [527, 1800, 526, 319], ax0: 561, ax1: 1011, px0: 567, px1: 1007, py0: 1815, py1: 2077,
    cats: M30, yDom: [0.5, 1.0], yStep: 0.05, yFmt: fmt2,
    y2Dom: [0, 1400], y2Step: 200, y2Fmt: fmtD, y2Line: true,
    every: 2, rot: -60, mark: true,
    bars: { v: BUT_VOL, axis: 2, w: 7, s: ST.vol },
    series: curveSeries(BUT_CURVE, BUT_1D, BUT_1W, BUT_2W, BUT_1M),
    legend: [
      { t: "Volume", s: ST.vol, x: 809, y: 1824 }, { t: "Curve", s: ST.curve, x: 916, y: 1824 },
      { t: "Curve-1M", s: ST.m1, x: 809, y: 1840 }, { t: "Curve -1w", s: ST.w1, x: 916, y: 1840 },
      { t: "Curve 1-D", s: ST.d1, x: 809, y: 1857 }, { t: "Curve-2W", s: ST.w2, x: 916, y: 1857 }
    ]
  });

  // ---------- row 3 ----------
  titleBar(2137, 20, [["Mt. Belvieu Ethane", 243], ["Mt. Belvieu Natural Gasoline", 797]]);
  catChart({
    box: [0, 2157, 502, 339], ax0: 37, ax1: 473, px0: 47, px1: 462, py0: 2168, py1: 2445,
    cats: BMONTHS, yDom: [0.15, 0.35], yStep: 0.02, yFmt: fmt3,
    y2Dom: [0, 180], y2Step: 20, y2Fmt: fmtD, y2Line: true,
    every: 1, rot: -60, mark: true,
    bars: { v: ETH_VOL, axis: 2, w: 9, s: ST.vol },
    series: curveSeries(ETH_CURVE, ETH_1D, ETH_1W, ETH_2W, ETH_1M),
    legend: [
      { t: "Volume", s: ST.vol, x: 291, y: 2180 }, { t: "Curve", s: ST.curve, x: 382, y: 2180 },
      { t: "Curve-1M", s: ST.m1, x: 291, y: 2197 }, { t: "Curve-1W", s: ST.w1, x: 382, y: 2197 },
      { t: "Curve 1-D", s: ST.d1, x: 291, y: 2213 }, { t: "Curve-2W", s: ST.w2, x: 382, y: 2213 }
    ]
  });
  catChart({
    box: [527, 2157, 526, 339], ax0: 557, ax1: 1017, px0: 571, px1: 1007, py0: 2173, py1: 2453,
    cats: MONTHS.slice(0, 18), yDom: [1.1, 1.6], yStep: 0.05, yFmt: fmt2,
    y2Dom: [0, 600], y2Step: 100, y2Fmt: fmtD, y2Line: true,
    every: 1, rot: -60,
    bars: { v: NG_VOL, axis: 2, w: 8, s: ST.vol },
    series: curveSeries(NG_CURVE, NG_1D, NG_1W, NG_2W, NG_1M),
    legend: [
      { t: "Volume", s: ST.vol, x: 821, y: 2182 }, { t: "Curve", s: ST.curve, x: 925, y: 2182 },
      { t: "Curve-1M", s: ST.m1, x: 821, y: 2194 }, { t: "Curve-1W", s: ST.w1, x: 925, y: 2194 },
      { t: "Curve 1-D", s: ST.d1, x: 821, y: 2206 }, { t: "Curve-2W", s: ST.w2, x: 925, y: 2206 }
    ]
  });

  // ---------- row 4 ----------
  const BS = {
    bar: { bar: true, fill: "#dae3f3", stroke: "#000" },
    lst: { color: "#4472c4", w: 3, marker: "diamond", ms: 30 },
    oth: { color: "#ed7d31", w: 3 },
    wk1: { dot: "#548235" }, wk2: { dot: "#ff0000" }, d1: { dot: "#44546a" }
  };
  titleBar(2517, 20, [["Conway/LST Propane (N/S)", 245], ["LST/EPC Propane", 796]]);
  catChart({
    box: [0, 2537, 502, 320], ax0: 42, ax1: 445, px0: 52, px1: 435, py0: 2552, py1: 2810,
    cats: BMONTHS, yDom: [0.5, 0.8], yStep: 0.025, yFmt: fmt4,
    y2Dom: [-0.07, 0.07], y2Step: 0.01, y2Fmt: fmt5,
    every: 1, rot: -90, lblOff: 8,
    bars: { v: CL_SETTLE, axis: 2, w: 9, s: BS.bar },
    series: [
      { v: LST_SETTLE.slice(0, 19), s: BS.lst }, { v: CWY_SETTLE.slice(0, 19), s: BS.oth },
      { v: CL_WK1, s: BS.wk1, axis: 2 }, { v: CL_WK2, s: BS.wk2, axis: 2 },
      { v: prior(CL_SETTLE, CL_DELTA), s: BS.d1, axis: 2 }
    ],
    legend: [
      { t: "LST", s: BS.lst, x: 189, y: 2561, sw: 28 }, { t: "CWY", s: BS.oth, x: 284, y: 2561, sw: 28 }
    ]
  });
  catChart({
    box: [528, 2537, 525, 320], ax0: 570, ax1: 993, px0: 579, px1: 982, py0: 2552, py1: 2812,
    cats: BMONTHS, yDom: [0.5, 0.8], yStep: 0.025, yFmt: fmt4,
    y2Dom: [-0.04, 0.04], y2Step: 0.005, y2Fmt: fmt5,
    every: 1, rot: -60,
    bars: { v: EL_SETTLE, axis: 2, w: 9, s: BS.bar },
    series: [
      { v: LST_SETTLE.slice(0, 19), s: BS.lst }, { v: EPC_SETTLE.slice(0, 18), s: BS.oth },
      { v: EL_WK1, s: BS.wk1, axis: 2 }, { v: EL_WK2, s: BS.wk2, axis: 2 },
      { v: prior(EL_SETTLE, EL_DELTA), s: BS.d1, axis: 2 }
    ],
    legend: [
      { t: "LST", s: BS.lst, x: 665, y: 2557, sw: 28 }, { t: "EPC", s: BS.oth, x: 782, y: 2557, sw: 28 },
      { t: "EPC/LST 1-wk", s: BS.wk1, x: 911, y: 2557 }, { t: "EPC/LST 2-wk", s: BS.wk2, x: 678, y: 2582 },
      { t: "EPC/LST 1-d", s: BS.d1, x: 796, y: 2582 }
    ]
  });

  // ---------- row 5 ----------
  const WS = {
    barL: { bar: true, fill: "#f7f9fc", stroke: "#000", lfill: "#dae3f3" },
    barR: { bar: true, fill: "#a6a6a6" },
    m1: { color: "#7030a0", w: 3, marker: "circle", r: 3.2 },
    m1r: { color: "#ed7d31", w: 3, marker: "circle", r: 3.2, mfill: "#7030a0", mstroke: "#7030a0" },
    w1: { color: "#ffc000", w: 3, marker: "circle", r: 3.2 },
    d1: { color: "#00b0f0", w: 3, marker: "circle", r: 3.2 },
    w2: { color: "#ff0000", w: 3, marker: "circle", r: 3.2 }
  };
  titleBar(2877, 20, [["Mt. Belvieu LST Propane Value vs WTI (Percentage)", 245],
    ["Mt. Belvieu LST Propane Value vs WTI (Percentage)", 798]]);
  catChart({
    box: [0, 2897, 502, 320], ax0: 8, ax1: 462, px0: 12, px1: 458, py0: 2911, py1: 3173,
    cats: MONTHS, yDom: [0.3, 0.52], yStep: 0.01, yFmt: fmt3, yAxis: "right", hgrid: false,
    every: 2, rot: -90, lblOff: 8, bottomColor: "#bfbfbf",
    bars: { v: WTI_L_BAR, w: 6, base: 0.3, s: WS.barL },
    series: [
      { v: WTI_L_1M, s: WS.m1 }, { v: WTI_L_1W, s: WS.w1 }, { v: WTI_L_1D, s: WS.d1 }, { v: WTI_L_2W, s: WS.w2 }
    ],
    legend: [
      { t: "Series3", s: WS.barL, x: 83, y: 2916, sw: 24 }, { t: "1M %", s: WS.m1, x: 158, y: 2916, sw: 25 },
      { t: "1 W %", s: WS.w1, x: 228, y: 2916, sw: 25 }, { t: "1D %", s: WS.d1, x: 302, y: 2916, sw: 25 },
      { t: "2W %", s: WS.w2, x: 369, y: 2916, sw: 25 }
    ]
  });
  catChart({
    box: [531, 2897, 522, 320], ax0: 541, ax1: 1009, px0: 547, px1: 1004, py0: 2911, py1: 3173,
    cats: M30, yDom: [0.3, 0.52], yStep: 0.01, yFmt: fmt3, yAxis: "right", hgrid: false, pad: 11,
    every: 1, rot: -90, lblOff: 8, bottomColor: "#bfbfbf",
    bars: { v: WTI_R_BAR, w: 10, base: 0.3, s: WS.barR },
    series: [
      { v: WTI_R_1M, s: WS.m1r }, { v: WTI_R_1W, s: WS.w1 }, { v: WTI_R_1D, s: WS.d1 }, { v: WTI_R_2W, s: WS.w2 }
    ],
    legend: [
      { t: "Series3", s: WS.barR, x: 622, y: 2916, sw: 24 }, { t: "1M %", s: WS.m1r, x: 698, y: 2916, sw: 25 },
      { t: "1 W %", s: WS.w1, x: 768, y: 2916, sw: 25 }, { t: "1D %", s: WS.d1, x: 841, y: 2916, sw: 25 },
      { t: "2W %", s: WS.w2, x: 908, y: 2916, sw: 25 }
    ]
  });

  // ---------- row 6: look back ----------
  titleBar(3238, 19, [["Mt. Belvieu LST Propane 6 month Look Back", 527]]);
  (function lookBack() {
    const g = svg.append("g");
    g.append("rect").attr("x", 0.5).attr("y", 3257.5).attr("width", W - 1).attr("height", 439)
      .attr("fill", "#fff").attr("stroke", "#d9d9d9");
    const parse = d3.timeParse("%m/%d/%Y");
    const dates = LB_DATES.map(parse);
    const t0 = new Date(2023, 0, 23), t1 = new Date(2023, 6, 26, 12);
    const x = d3.scaleTime().domain([t0, t1]).range([52, 997]);
    const y = d3.scaleLinear().domain([0.5, 1.0]).range([3636, 3269]);
    const yt = steps([0.5, 1.0], 0.05);
    yt.forEach((v) => {
      if (v === 1) return;
      hl(g, 52, 997, y(v), "#d9d9d9", 1.5);
    });
    hl(g, 52, 997, y(1), "#ffe699", 1.2);
    vl(g, 52, y(1), y(0.5), "#ffe699", 1.2);
    hl(g, 52, 997, y(0.5), "#bfbfbf", 1.2);
    d3.timeDay.range(t0, t1).filter((d) => d.getDay() % 6 !== 0).forEach((d) =>
      vl(g, x(d), y(0.5), y(0.5) + 4, "#bfbfbf", 1));
    const ga = g.append("g").attr("transform", "translate(997,0)")
      .call(d3.axisRight(y).tickValues(yt).tickFormat(fmt5).tickSize(4).tickSizeOuter(0).tickPadding(4));
    styleAxis(ga, "#8faadc", true);
    ga.selectAll(".tick text").attr("fill", "#44546a");
    const fmtDate = d3.timeFormat("%-m/%-d/%Y");
    d3.timeMonday.range(t0, new Date(2023, 6, 25)).forEach((d) =>
      g.append("text").attr("transform", `translate(${x(d)},${y(0.5) + 8}) rotate(-60)`)
        .attr("text-anchor", "end").attr("dy", "0.35em").attr("font-family", CF).attr("font-size", 12)
        .attr("fill", "#595959").text(fmtDate(d)));
    const LS = {
      mo2: { color: "#1f3864", w: 3 },
      q323: { color: "#2f5597", w: 2 },
      cal23: { color: "#7f9fd6", w: 2 },
      cal24: { color: "#b4c7e7", w: 2 },
      cal25: { color: "#d6e0f2", w: 2 },
      w2324: { color: "#2f5597", w: 2, dash: "3,2" },
      w2425: { color: "#8faadc", w: 2, dash: "7,4" }
    };
    const ser = [
      [LB_CAL25, LS.cal25], [LB_CAL24, LS.cal24], [LB_W2425, LS.w2425], [LB_CAL23, LS.cal23],
      [LB_W2324, LS.w2324], [LB_Q323, LS.q323], [LB_2NDMO, LS.mo2]
    ];
    const line = d3.line().x((d, i) => x(dates[i])).y((d) => y(d));
    ser.forEach(([v, s]) => g.append("path").attr("d", line(v)).attr("fill", "none")
      .attr("stroke", s.color).attr("stroke-width", s.w).attr("stroke-dasharray", s.dash || null)
      .attr("stroke-linejoin", "round"));
    [["2nd Mo", LS.mo2, 116], ["Q323", LS.q323, 219], ["CAL23", LS.cal23, 314], ["CAL24", LS.cal24, 411],
      ["CAL25", LS.cal25, 508], ["Winter 23-24", LS.w2324, 606], ["Winter 24-25", LS.w2425, 737]]
      .forEach(([t, s, lx]) => legendItem(g, { t, s, x: lx, y: 3298, sw: 32 }));
  })();

  // If no narrow face is installed, squeeze the chart texts to the narrow width.
  (function condense() {
    const probe = (fam) => {
      const t = svg.append("text").attr("font-family", fam).attr("font-size", 100).text("0.7500 Curve-1M Volume");
      const w = t.node().getComputedTextLength();
      t.remove();
      return w;
    };
    const ratio = 0.82 * probe("'Liberation Sans',sans-serif") / probe(CF);
    if (ratio > 0.97) return;
    svg.selectAll("text").filter(function () { return this.getAttribute("font-family") === CF; }).each(function () {
      const len = this.getComputedTextLength();
      if (len > 0) d3.select(this).attr("textLength", len * ratio).attr("lengthAdjust", "spacingAndGlyphs");
    });
  })();
})();
</script>
</body>
</html>
